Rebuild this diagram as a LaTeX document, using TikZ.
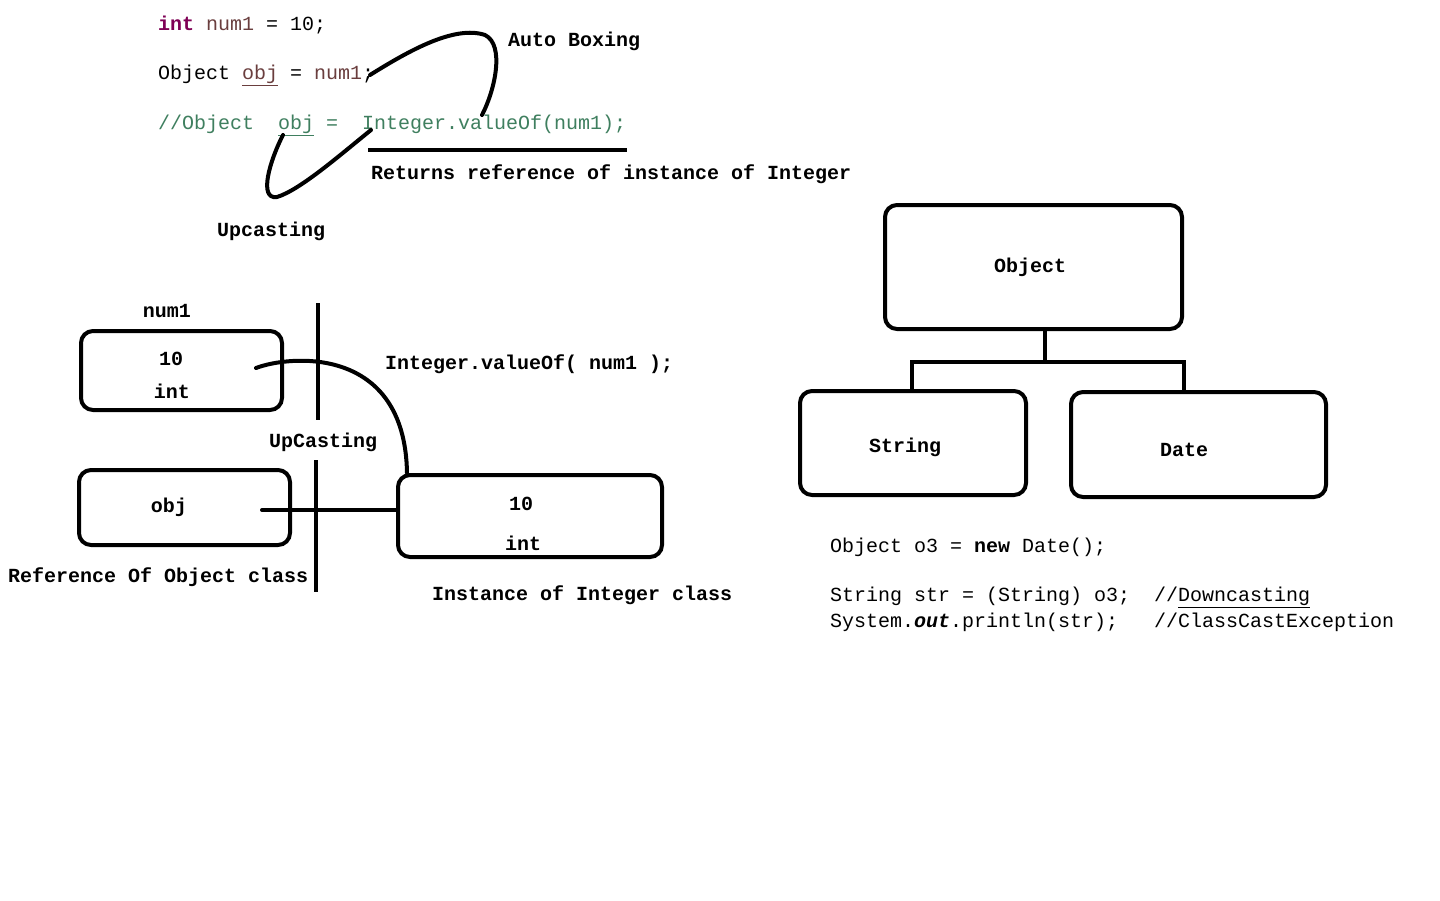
\documentclass[tikz,border=0pt]{standalone}
\usepackage{fontspec}
\setmonofont{Liberation Mono}
\usetikzlibrary{calc}
\definecolor{kw}{HTML}{7F0055}
\definecolor{var}{HTML}{6A3E3E}
\definecolor{cmt}{HTML}{3F7F5F}
\newcommand{\cdfont}{\fontsize{20}{24}\selectfont\ttfamily}
\newcommand{\lbfont}{\fontsize{20}{24}\selectfont\ttfamily\bfseries}
\begin{document}
\begin{tikzpicture}[x=1pt,y=-1pt,
  code/.style={font=\cdfont, inner sep=0pt, anchor=west},
  lbl/.style={font=\lbfont, inner sep=0pt, anchor=west},
  clbl/.style={font=\lbfont, inner sep=0pt, anchor=center},
  box/.style={draw, line width=4pt, rounded corners=12pt, rectangle, inner sep=0pt},
  pen/.style={line width=4pt, line cap=round},
  rule/.style={line width=3.5pt}]
\fill[white] (0,0) rectangle (1440,900);
\useasboundingbox (0,0) rectangle (1440,900);

% code at top
\node[code] (c1) at (158,25) {\textcolor{kw}{\bfseries int} \textcolor{var}{num1} = 10;};
\node[code] (c2) at (158,75) {Object \textcolor{var}{\underline{obj}} = \textcolor{var}{num1};};
\node[code, text=cmt] (c3) at (158,125) {//Object\ \ \underline{obj} =\ \ Integer.valueOf(num1);};
\node[lbl] (ab) at (508,41) {Auto Boxing};
\node[lbl] (rr) at (371,174) {Returns reference of instance of Integer};
\node[lbl] (up) at (217,231) {Upcasting};

\coordinate (u1) at (368,150);
\coordinate (u2) at (627,150);
\draw[rule] (u1) -- (u2);

\coordinate (ab1) at (370,75);
\coordinate (ab2) at (485,35);
\coordinate (ab3) at (482,115);
\draw[pen] (ab1) .. controls (410,50) and (455,25) .. (ab2) .. controls (505,45) and (495,90) .. (ab3);

\coordinate (uc1) at (283,135);
\coordinate (uc2) at (277,197);
\coordinate (uc3) at (371,130);
\draw[pen] (uc1) .. controls (270,160) and (258,200) .. (uc2) .. controls (300,190) and (340,155) .. (uc3);

% lower left memory diagram
\node[clbl] (n1) at (167,311) {num1};
\node[box, minimum width=201pt, minimum height=79pt] (b1) at (181.5,370.5) {};
\node[clbl] (b1v) at (171,359) {10};
\node[clbl] (b1t) at (172,391) {int};

\node[box, minimum width=211pt, minimum height=75pt] (b2) at (184.5,507.5) {};
\node[clbl] (b2v) at (169,507) {obj};

\node[box, minimum width=264pt, minimum height=82pt] (b3) at (530,516) {};
\node[clbl] (b3v) at (521,504) {10};
\node[clbl] (b3t) at (523,543) {int};

\coordinate (v1a) at (318,303);
\coordinate (v1b) at (318,420);
\draw[rule] (v1a) -- (v1b);
\coordinate (v2a) at (316,460);
\coordinate (v2b) at (316,592);
\draw[rule] (v2a) -- (v2b);

\coordinate (a1) at (256,368);
\coordinate (a3) at (407,473);
\draw[pen] (a1) .. controls (290,355) and (405,345) .. (a3);

\coordinate (h1) at (262,510);
\draw[pen] (h1) -- (b3.west |- h1);

\node[lbl] (iv) at (385,364) {Integer.valueOf( num1 );};
\node[lbl] (uc) at (269,442) {UpCasting};
\node[lbl] (ro) at (8,577) {Reference Of Object class};
\node[lbl] (ic) at (432,595) {Instance of Integer class};

% right hierarchy
\node[box, minimum width=297pt, minimum height=124pt] (ob) at (1033.5,267) {};
\node[clbl] (obl) at (1030,267) {Object};
\node[box, minimum width=226pt, minimum height=104pt] (sb) at (913,443) {};
\node[clbl] (sbl) at (905,447) {String};
\node[box, minimum width=255pt, minimum height=105pt] (db) at (1198.5,444.5) {};
\node[clbl] (dbl) at (1184,450) {Date};

\coordinate (j) at (1045,362);
\draw[line width=4pt] (j |- ob.south) -- (j);
\draw[line width=4pt] ($(sb.north west)+(114,0)$) |- (j) -| ($(db.north west)+(115,0)$);

% bottom right code
\node[code] (d1) at (830,547) {Object o3 = {\bfseries new} Date();};
\node[code] (d2) at (830,597) {String str = (String) o3;\ \ //\underline{Downcasting}};
\node[code] (d3) at (830,622) {System.{\bfseries\itshape out}.println(str);\ \ \ //ClassCastException};
\end{tikzpicture}
\end{document}
